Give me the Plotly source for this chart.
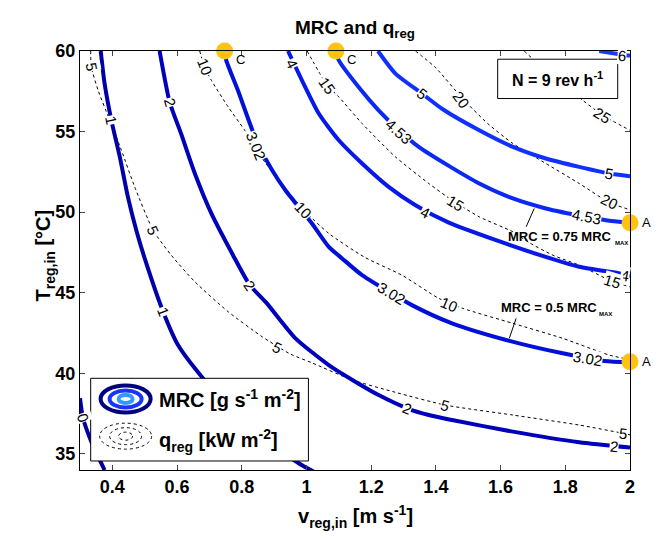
import plotly.graph_objects as go

# ---------------- data ----------------
# MRC contours [g s-1 m-2]
mrc0_x = [0.300, 0.309, 0.335, 0.376]
mrc0_y = [38.45, 37.25, 35.76, 34.0]
mrc1_x = [0.364, 0.376, 0.397, 0.423, 0.448, 0.474, 0.500, 0.557, 0.603, 0.680, 0.78, 0.88, 0.976, 1.022]
mrc1_y = [60.0, 57.98, 55.70, 53.43, 50.95, 48.88, 47.13, 43.82, 41.75, 39.69, 37.5, 35.8, 34.42, 33.9]
mrc2_x = [0.546, 0.577, 0.613, 0.655, 0.706, 0.773, 0.825, 0.875, 0.966, 1.069, 1.151, 1.223, 1.311, 1.378, 1.450, 1.638, 1.843, 2.0]
mrc2_y = [60.0, 56.84, 54.84, 52.40, 49.92, 47.33, 45.47, 44.40, 42.17, 40.51, 39.48, 38.65, 37.83, 37.41, 37.10, 36.38, 35.72, 35.39]
mrc302_x = [0.747, 0.752, 0.788, 0.845, 0.894, 0.935, 1.017, 1.069, 1.110, 1.172, 1.326, 1.450, 1.617, 1.792, 1.921, 2.0]
mrc302_y = [60.0, 59.42, 57.56, 54.46, 52.60, 51.36, 49.30, 47.85, 47.13, 46.09, 44.23, 43.10, 42.07, 41.24, 40.76, 40.68]
mrc4_x = [0.943, 0.986, 1.038, 1.100, 1.172, 1.254, 1.337, 1.440, 1.586, 1.715, 1.843, 1.967, 2.0]
mrc4_y = [60.0, 58.18, 56.12, 54.46, 53.02, 51.57, 50.43, 49.35, 48.26, 47.38, 46.61, 46.20, 46.05]
mrc453_x = [1.091, 1.100, 1.161, 1.223, 1.285, 1.347, 1.440, 1.534, 1.638, 1.740, 1.864, 1.926, 2.0]
mrc453_y = [60.0, 59.42, 57.77, 56.32, 55.10, 54.05, 52.87, 51.78, 50.85, 50.23, 49.71, 49.50, 49.34]
mrc5_x = [1.221, 1.275, 1.357, 1.420, 1.534, 1.638, 1.740, 1.843, 1.936, 2.0]
mrc5_y = [60.0, 58.60, 57.36, 56.40, 55.08, 54.05, 53.33, 52.81, 52.40, 52.23]
mrc6_x = [1.905, 1.972, 2.0]
mrc6_y = [60.0, 59.78, 59.70]

# q_reg contours [kW m-2]
q5_x = [0.333, 0.335, 0.356, 0.392, 0.428, 0.469, 0.526, 0.582, 0.655, 0.758, 0.863, 0.95, 1.017, 1.141, 1.275, 1.429, 1.638, 1.843, 1.978, 2.0]
q5_y = [60.0, 59.01, 57.56, 55.70, 53.84, 51.57, 48.88, 47.33, 45.68, 43.82, 42.27, 41.20, 40.65, 39.59, 38.82, 38.03, 37.41, 36.79, 36.28, 36.18]
q10_x = [0.670, 0.685, 0.706, 0.758, 0.809, 0.860, 0.914, 0.992, 1.069, 1.180, 1.295, 1.409, 1.483, 1.638, 1.792, 1.936, 2.0]
q10_y = [60.0, 59.01, 58.18, 56.53, 55.08, 53.43, 51.98, 50.12, 48.68, 47.20, 46.09, 44.65, 44.03, 43.10, 42.17, 41.13, 40.85]
q15_x = [1.002, 1.064, 1.100, 1.172, 1.275, 1.378, 1.450, 1.534, 1.638, 1.689, 1.765, 1.843, 1.947, 2.0]
q15_y = [60.0, 57.87, 57.15, 55.50, 53.43, 51.78, 50.74, 49.71, 48.78, 48.10, 47.30, 46.71, 45.68, 45.37]
q20_x = [1.337, 1.400, 1.480, 1.560, 1.638, 1.740, 1.843, 1.936, 2.0]
q20_y = [60.0, 58.95, 57.10, 55.50, 54.26, 53.02, 51.78, 50.60, 50.15]
q25_x = [1.673, 1.700, 1.854, 1.916, 2.0]
q25_y = [60.0, 59.50, 56.94, 56.01, 55.08]

# special points
c_x = [0.747, 1.091]
c_y = [60.0, 60.0]
a_x = [2.0, 2.0]
a_y = [49.34, 40.72]

# contour labels: (text, x, y, angle)
mrc_labels = [("0", 0.309, 37.25, 70), ("1", 0.397, 55.70, 78), ("1", 0.557, 43.82, 69),
              ("2", 0.577, 56.84, 75), ("2", 0.825, 45.47, 55), ("2", 1.311, 37.83, 22), ("2", 1.951, 35.45, 6),
              ("3.02", 0.844, 54.15, 68), ("3.02", 1.264, 44.96, 31), ("3.02", 1.869, 40.89, 10),
              ("4", 0.955, 59.22, 64), ("4", 1.367, 49.96, 27), ("4", 1.983, 46.09, 10),
              ("4.53", 1.285, 55.0, 42), ("4.53", 1.864, 49.71, 11),
              ("5", 1.357, 57.36, 38), ("5", 1.936, 52.40, 10), ("6", 1.975, 59.73, 5)]
q_labels = [("5", 0.335, 59.01, 79), ("5", 0.526, 48.88, 66), ("5", 0.909, 41.60, 27), ("5", 1.429, 38.03, 16),
            ("5", 1.978, 36.28, 6), ("10", 0.685, 59.01, 68), ("10", 0.992, 50.12, 47), ("10", 1.441, 44.30, 23),
            ("15", 1.064, 57.87, 55), ("15", 1.462, 50.54, 32), ("15", 1.947, 45.68, 17),
            ("20", 1.478, 57.0, 53), ("20", 1.936, 50.64, 26), ("25", 1.916, 56.01, 32)]

x_ticks = [0.4, 0.6, 0.8, 1.0, 1.2, 1.4, 1.6, 1.8, 2.0]
x_tick_text = ["0.4", "0.6", "0.8", "1", "1.2", "1.4", "1.6", "1.8", "2"]
y_ticks = [35, 40, 45, 50, 55, 60]

# ---------------- figure ----------------
FONT = "Liberation Sans, Arial, Helvetica, sans-serif"
fig = go.Figure()

q_series = [(q5_x, q5_y), (q10_x, q10_y), (q15_x, q15_y), (q20_x, q20_y), (q25_x, q25_y)]
for xs, ys in q_series:
    fig.add_trace(go.Scatter(x=xs, y=ys, mode="lines",
                             line=dict(color="black", width=1, dash="dot", shape="spline", smoothing=0.6),
                             hoverinfo="skip", showlegend=False))

mrc_series = [(mrc0_x, mrc0_y, "#00009a"), (mrc1_x, mrc1_y, "#0000a8"), (mrc2_x, mrc2_y, "#0000bb"),
              (mrc302_x, mrc302_y, "#0010d8"), (mrc4_x, mrc4_y, "#0818e8"), (mrc453_x, mrc453_y, "#0c28f5"),
              (mrc5_x, mrc5_y, "#1030ff"), (mrc6_x, mrc6_y, "#1838ff")]
for xs, ys, col in mrc_series:
    fig.add_trace(go.Scatter(x=xs, y=ys, mode="lines",
                             line=dict(color=col, width=4, shape="spline", smoothing=0.6),
                             hoverinfo="skip", showlegend=False))

fig.add_trace(go.Scatter(x=c_x + a_x, y=c_y + a_y, mode="markers", cliponaxis=False,
                         marker=dict(size=17, color="#FFC20E"), hoverinfo="skip", showlegend=False))

ann = []
for t, x, y, a in mrc_labels + q_labels:
    ann.append(dict(x=x, y=y, text=t, showarrow=False, textangle=a, bgcolor="white", borderpad=0,
                    font=dict(family=FONT, size=15, color="black")))
for x, y in zip(c_x, c_y):
    ann.append(dict(x=x, y=y, text="C", showarrow=False, xshift=16, yshift=-8,
                    font=dict(family=FONT, size=13, color="black")))
for x, y in zip(a_x, a_y):
    ann.append(dict(x=x, y=y, text="A", showarrow=False, xshift=16, yshift=0,
                    font=dict(family=FONT, size=13, color="black")))

# MRC fraction notes, text box, legend, axis titles
ann += [
    dict(x=1.784, y=48.47, text="<b>MRC = 0.75 MRC</b>", showarrow=False, font=dict(family=FONT, size=13, color="black")),
    dict(x=1.975, y=48.06, text="<b>MAX</b>", showarrow=False, font=dict(family=FONT, size=6, color="black")),
    dict(x=1.751, y=44.07, text="<b>MRC = 0.5 MRC</b>", showarrow=False, font=dict(family=FONT, size=13, color="black")),
    dict(x=1.923, y=43.66, text="<b>MAX</b>", showarrow=False, font=dict(family=FONT, size=6, color="black")),
    dict(x=1.777, y=58.26, text="<b>N = 9 rev h<sup>-1</sup></b>", showarrow=False, font=dict(family=FONT, size=16, color="black")),
    dict(x=0.538, y=38.41, xanchor="left", text="<b>MRC [g s<sup>-1</sup> m<sup>-2</sup>]</b>", showarrow=False,
         font=dict(family=FONT, size=20, color="black")),
    dict(x=0.538, y=35.85, xanchor="left", text="<b>q<sub>reg</sub> [kW m<sup>-2</sup>]</b>", showarrow=False,
         font=dict(family=FONT, size=20, color="black")),
    dict(xref="paper", yref="paper", x=-0.091, y=0.513, text="<b>T<sub>reg,in</sub> [°C]</b>", textangle=-90,
         showarrow=False, font=dict(family=FONT, size=20, color="black")),
    dict(xref="paper", yref="paper", x=0.5, y=-0.11, yanchor="middle", text="<b>v<sub>reg,in</sub> [m s<sup>-1</sup>]</b>",
         showarrow=False, font=dict(family=FONT, size=20, color="black")),
]

shapes = [
    dict(type="line", x0=1.704, y0=50.23, x1=1.679, y1=49.09, line=dict(color="black", width=1)),
    dict(type="line", x0=1.648, y0=43.41, x1=1.627, y1=42.17, line=dict(color="black", width=1)),
    dict(type="rect", x0=1.591, x1=1.962, y0=57.05, y1=59.49, line=dict(color="black", width=1),
         fillcolor="white", layer="above"),
    dict(type="rect", x0=0.333, x1=1.006, y0=34.56, y1=39.69, line=dict(color="black", width=1),
         fillcolor="white", layer="above"),
]
# legend icons
for rx, ry, col in [(25, 13.5, "#000080"), (16, 8.5, "#1a33ff"), (7, 4, "#3399ff")]:
    shapes.append(dict(type="circle", xref="x", yref="y", xsizemode="pixel", ysizemode="pixel",
                       xanchor=0.441, yanchor=38.41, x0=-rx, x1=rx, y0=-ry, y1=ry,
                       line=dict(color=col, width=4), layer="above"))
for rx, ry in [(26, 13), (16, 8.5), (7, 4)]:
    shapes.append(dict(type="circle", xref="x", yref="y", xsizemode="pixel", ysizemode="pixel",
                       xanchor=0.441, yanchor=36.1, x0=-rx, x1=rx, y0=-ry, y1=ry,
                       line=dict(color="black", width=1, dash="dot"), layer="above"))

fig.update_layout(
    width=664, height=542, margin=dict(l=80, r=34, t=51, b=72),
    paper_bgcolor="white", plot_bgcolor="white",
    title=dict(text="<b>MRC and q<sub>reg</sub></b>", x=0.5, xref="paper", y=0.95, yref="container",
               yanchor="middle", font=dict(family=FONT, size=19, color="black")),
    annotations=ann, shapes=shapes, showlegend=False,
    xaxis=dict(range=[0.3, 2.0], tickvals=x_ticks, ticktext=x_tick_text, ticks="inside", ticklen=5,
               showline=True, linecolor="black", linewidth=1, mirror="ticks", showgrid=False, zeroline=False,
               tickfont=dict(family=FONT, size=18, color="black", weight="bold")),
    yaxis=dict(range=[34, 60], tickvals=y_ticks, ticks="inside", ticklen=5,
               showline=True, linecolor="black", linewidth=1, mirror="ticks", showgrid=False, zeroline=False,
               tickfont=dict(family=FONT, size=18, color="black", weight="bold")),
)

fig.write_html("out.html")
